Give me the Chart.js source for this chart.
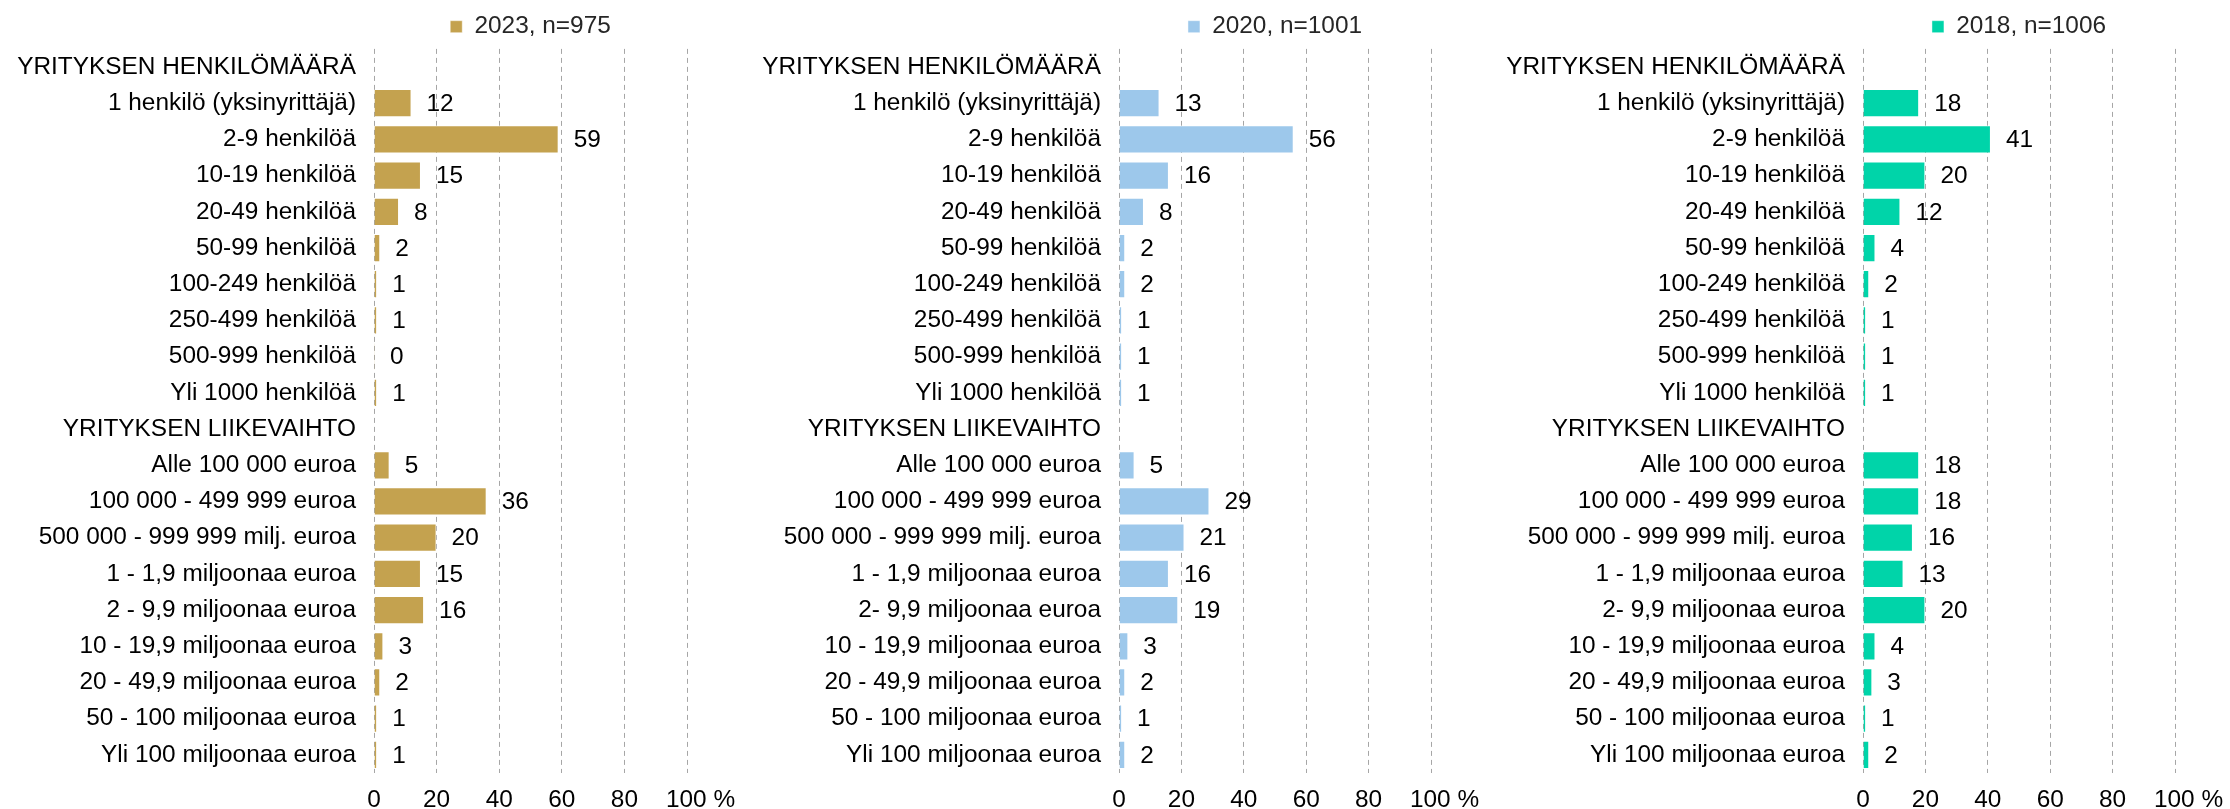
<!DOCTYPE html>
<html>
<head>
<meta charset="utf-8">
<script src="https://cdn.jsdelivr.net/npm/chart.js@4/dist/chart.umd.min.js"></script>
<style>
  html, body { margin: 0; padding: 0; background: #fff; }
  body { width: 2230px; height: 809px; position: relative; overflow: hidden; }
  .panel { position: absolute; top: 0; height: 809px; }
</style>
</head>
<body>
<div class="panel" style="left:0;width:740px"><canvas id="c2023"></canvas></div>
<div class="panel" style="left:740px;width:740px"><canvas id="c2020"></canvas></div>
<div class="panel" style="left:1480px;width:750px"><canvas id="c2018"></canvas></div>
<script>
// categories (headers have no value)
const labels2023 = [
  'YRITYKSEN HENKILÖMÄÄRÄ', '1 henkilö (yksinyrittäjä)', '2-9 henkilöä', '10-19 henkilöä', '20-49 henkilöä',
  '50-99 henkilöä', '100-249 henkilöä', '250-499 henkilöä', '500-999 henkilöä', 'Yli 1000 henkilöä',
  'YRITYKSEN LIIKEVAIHTO', 'Alle 100 000 euroa', '100 000 - 499 999 euroa', '500 000 - 999 999 milj. euroa',
  '1 - 1,9 miljoonaa euroa', '2 - 9,9 miljoonaa euroa', '10 - 19,9 miljoonaa euroa', '20 - 49,9 miljoonaa euroa',
  '50 - 100 miljoonaa euroa', 'Yli 100 miljoonaa euroa'
];
const labelsOlder = labels2023.map(l => l === '2 - 9,9 miljoonaa euroa' ? '2- 9,9 miljoonaa euroa' : l);

const values2023 = [null, 12, 59, 15, 8, 2, 1, 1, 0.3, 1, null, 5, 36, 20, 15, 16, 3, 2, 1, 1];
const values2020 = [null, 13, 56, 16, 8, 2, 2, 1, 1, 1, null, 5, 29, 21, 16, 19, 3, 2, 1, 2];
const values2018 = [null, 18, 41, 20, 12, 4, 2, 1, 1, 1, null, 18, 18, 16, 13, 20, 4, 3, 1, 2];

const xTicks = [0, 20, 40, 60, 80, 100];

const FONT = "'Liberation Sans', Arial, sans-serif";
const FONT_SIZE = 24.4;

// value labels at the end of each bar
const barValueLabels = {
  id: 'barValueLabels',
  afterDatasetsDraw(chart) {
    const ctx = chart.ctx;
    ctx.save();
    ctx.font = `${FONT_SIZE}px ${FONT}`;
    ctx.fillStyle = '#000';
    ctx.textAlign = 'left';
    ctx.textBaseline = 'middle';
    chart.data.datasets.forEach((ds, i) => {
      chart.getDatasetMeta(i).data.forEach((bar, j) => {
        const v = ds.data[j];
        if (v === null || v === undefined) return;
        ctx.fillText(String(Math.round(v)), bar.x + 15, bar.y + 1);
      });
    });
    ctx.restore();
  }
};

function makePanel(id, labels, values, legendText, color, yWidth, padRight) {
  new Chart(document.getElementById(id), {
    type: 'bar',
    data: {
      labels: labels,
      datasets: [{
        label: legendText,
        data: values,
        backgroundColor: color,
        borderColor: 'rgba(255,255,255,0.45)',
        borderWidth: 1,
        barPercentage: 0.78,
        categoryPercentage: 1
      }]
    },
    plugins: [barValueLabels],
    options: {
      indexAxis: 'y',
      responsive: true,
      maintainAspectRatio: false,
      animation: false,
      layout: { padding: { top: 3, right: padRight, left: 0, bottom: 0 } },
      plugins: {
        legend: {
          position: 'top',
          fullSize: false,
          labels: {
            boxWidth: 12, boxHeight: 12, padding: 11.5,
            color: '#262626',
            font: { family: FONT, size: FONT_SIZE }
          }
        },
        tooltip: { enabled: false }
      },
      scales: {
        x: {
          min: 0, max: 100,
          afterBuildTicks: scale => { scale.ticks = xTicks.map(v => ({ value: v })); },
          grid: { color: '#a6a6a6', lineWidth: 1, drawTicks: false },
          border: { display: false, dash: [5, 4] },
          ticks: {
            color: '#000', padding: 13, maxRotation: 0, minRotation: 0, autoSkip: false,
            font: { family: FONT, size: FONT_SIZE },
            callback: v => v === 100 ? '    100 %' : v
          },
          afterFit: scale => {
            scale.height = 36;
            scale.paddingLeft = 0;
            scale.paddingRight = 0;
          }
        },
        y: {
          grid: { display: false, drawTicks: false },
          border: { display: false },
          ticks: {
            color: '#000', padding: 18, autoSkip: false,
            font: { family: FONT, size: FONT_SIZE }
          },
          afterFit: scale => { scale.width = yWidth; }
        }
      }
    }
  });
}

makePanel('c2023', labels2023, values2023, '2023, n=975', '#C4A24F', 374, 53);
makePanel('c2020', labelsOlder, values2020, '2020, n=1001', '#9DC8EB', 379, 49);
makePanel('c2018', labelsOlder, values2018, '2018, n=1006', '#00D4A9', 383, 55);
</script>
</body>
</html>
